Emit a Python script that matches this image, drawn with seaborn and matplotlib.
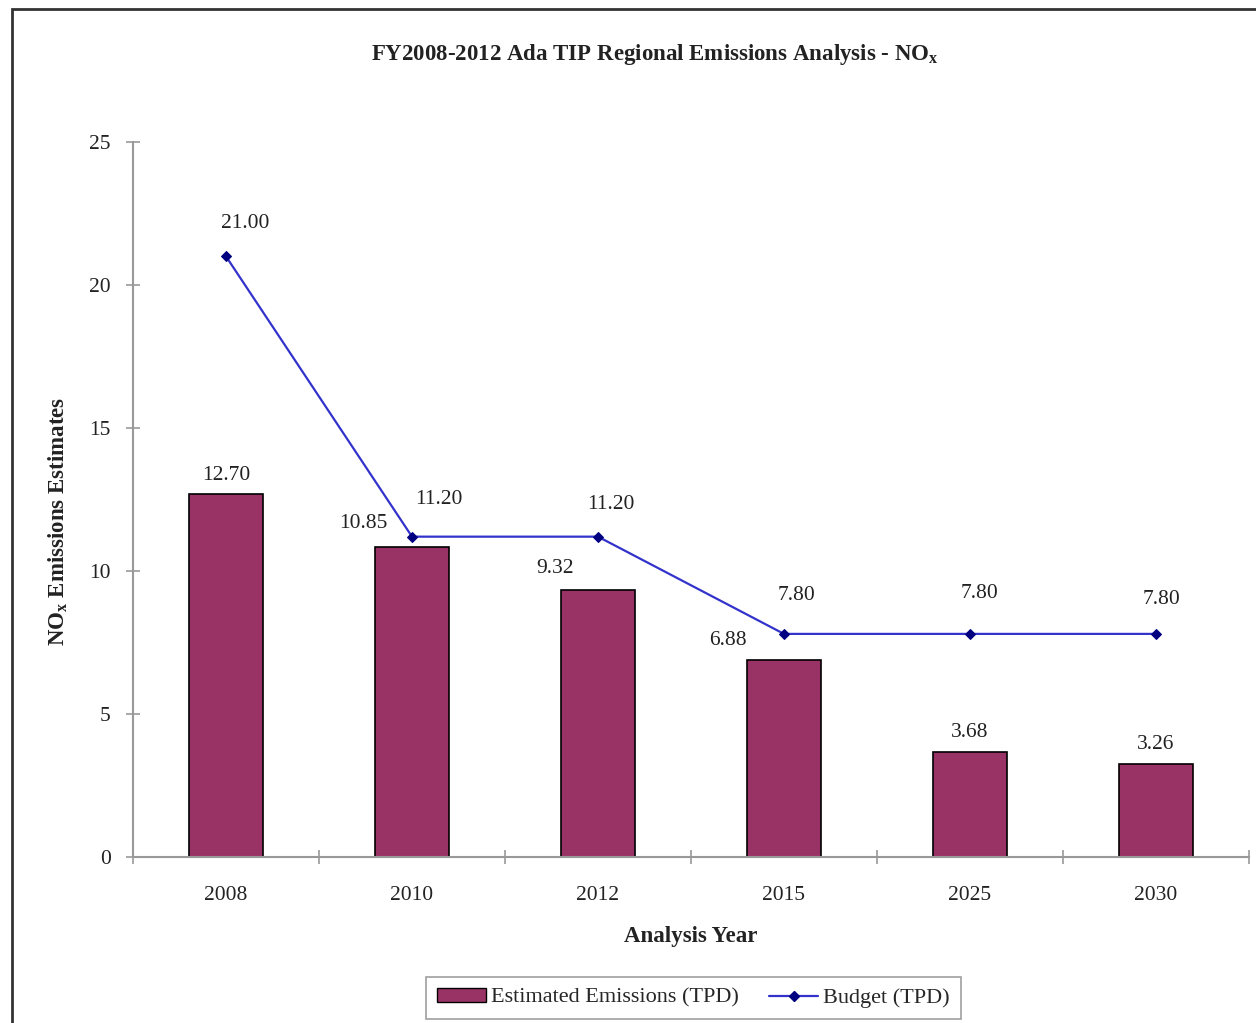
import numpy as np
import pandas as pd
import seaborn as sns
import matplotlib
matplotlib.use("Agg")
import matplotlib.pyplot as plt
from matplotlib.patches import Patch, Rectangle
from matplotlib.lines import Line2D

years = ["2008", "2010", "2012", "2015", "2025", "2030"]
emissions = [12.70, 10.85, 9.32, 6.88, 3.68, 3.26]
budget = [21.00, 11.20, 11.20, 7.80, 7.80, 7.80]

sns.set_theme(style="white")
plt.rcParams['font.family'] = ['Liberation Serif', 'DejaVu Serif']

fig = plt.figure(figsize=(12.56, 10.23), dpi=100)
ax = fig.add_axes([0.1059, 0.1623, 0.8885, 0.6989])

df = pd.DataFrame({"year": years, "emissions": emissions, "budget": budget})
bar_color = "#993366"
line_color = "#3333CC"

sns.barplot(data=df, x="year", y="emissions", color=bar_color, width=0.40,
            edgecolor="black", linewidth=1.2, saturation=1, ax=ax)
sns.lineplot(x=np.arange(len(years)), y=budget, color=line_color, linewidth=1.6,
             marker="D", markersize=5, markerfacecolor="#000080",
             markeredgecolor="#000080", ax=ax)

ax.set_xlim(-0.5, len(years) - 0.5)
ax.set_ylim(0, 25)
ax.set_yticks([0, 5, 10, 15, 20, 25])
ax.set_xticks(np.arange(len(years)))
ax.set_xticklabels(years)
ax.set_xticks(np.arange(-0.5, len(years)), minor=True)

for s in ["top", "right"]:
    ax.spines[s].set_visible(False)
for s in ["left", "bottom"]:
    ax.spines[s].set_color("#999999")
    ax.spines[s].set_linewidth(1.5)

FS = 15.5
ax.tick_params(axis="y", which="major", direction="inout", length=10, width=1.2,
               color="#999999", labelsize=FS, labelcolor="#222222", pad=11, left=True)
ax.tick_params(axis="x", which="major", length=0, labelsize=FS, labelcolor="#222222", pad=21)
ax.tick_params(axis="x", which="minor", direction="inout", length=10, width=1.2,
               color="#999999", bottom=True)

ax.set_xlabel("Analysis Year", fontsize=16.5, fontweight="bold", labelpad=15, color="#222222")
ax.set_ylabel(r"NO$_\mathregular{x}$ Emissions Estimates", fontsize=16.5, fontweight="bold",
              labelpad=14, color="#222222")
ax.yaxis.label.set_y(0.47)

# bar value labels (offsets in points)
bar_off = [(0, 13), (-35, 17), (-31, 16), (-40, 14), (0, 14), (0, 14)]
for i, v in enumerate(emissions):
    ax.annotate(f"{v:.2f}", (i, v), xytext=bar_off[i], textcoords="offset points",
                ha="center", va="center", fontsize=FS, color="#222222")

line_off = [(14, 24), (19, 27), (9, 23), (9, 28), (7, 29), (4, 25)]
for i, v in enumerate(budget):
    ax.annotate(f"{v:.2f}", (i, v), xytext=line_off[i], textcoords="offset points",
                ha="center", va="center", fontsize=FS, color="#222222")

fig.text(0.5215, 0.947, r"FY2008-2012 Ada TIP Regional Emissions Analysis - NO$_\mathregular{x}$",
         ha="center", va="center", fontsize=16.5, fontweight="bold", color="#222222")

handles = [Patch(facecolor=bar_color, edgecolor="black", linewidth=1.0),
           Line2D([0], [0], color=line_color, linewidth=1.6, marker="D", markersize=5,
                  markerfacecolor="#000080", markeredgecolor="#000080")]
leg = fig.legend(handles, ["Estimated Emissions (TPD)", "Budget (TPD)"], ncol=2,
                 loc="center", bbox_to_anchor=(0.552, 0.0244), fontsize=16,
                 frameon=True, fancybox=False, edgecolor="#888888",
                 handlelength=2.2, handleheight=0.6, handletextpad=0.2,
                 columnspacing=1.4, borderpad=0.5)
leg.get_frame().set_linewidth(1.2)

# outer frame of the chart area
fig.patches.append(Rectangle((12 / 1256, -0.05), 1.2, 1.05 - 9 / 1023,
                             transform=fig.transFigure, fill=False,
                             edgecolor="#333333", linewidth=2.0))

fig.savefig("out.png", dpi=100)
